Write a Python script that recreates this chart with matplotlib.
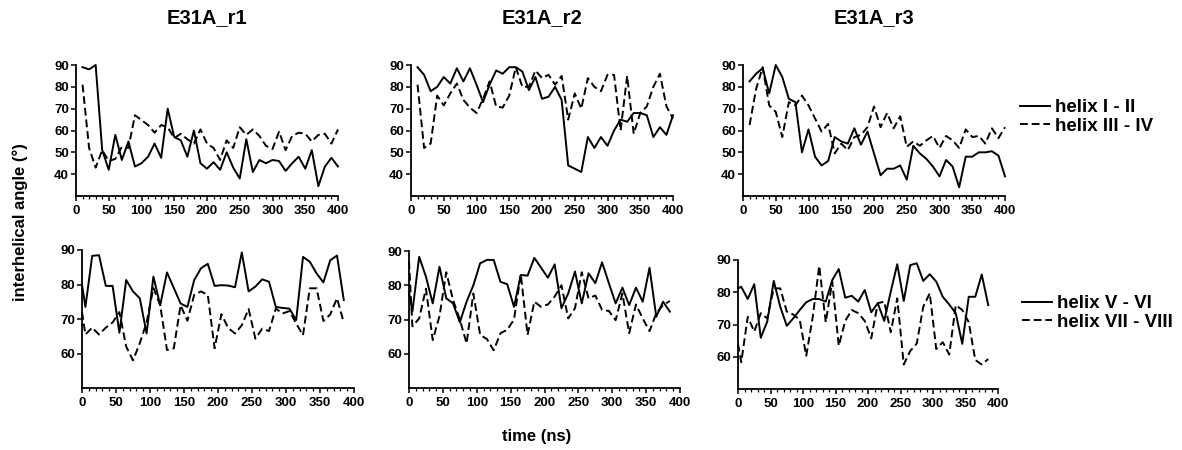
import matplotlib.pyplot as plt
from matplotlib.ticker import MultipleLocator

plt.rcParams['font.family'] = ['Liberation Sans', 'DejaVu Sans']
plt.rcParams['font.weight'] = 'bold'

# time points (ns)
t_top = list(range(10, 401, 10))
t_bot = [0] + list(range(5, 386, 10))

# helix I - II / helix III - IV
r1_a = [89, 88, 90, 51, 42, 58, 46.5, 55, 43.5, 45,
        48, 54, 47.5, 70, 57, 55.5, 48, 60, 45, 42.5,
        45.5, 42, 50, 43, 38, 56, 41, 46.5, 45, 46.5,
        46, 41.5, 45, 48, 42.5, 51, 34.5, 43.5, 47.5, 43.5]
r1_b = [81, 52, 43, 51, 46, 47, 52.5, 52, 67, 64.8,
        62.5, 59, 62.5, 61.5, 56.5, 58.5, 56, 54, 60.5, 54,
        52, 46.5, 55.5, 52, 61.5, 58, 60.5, 57.5, 53, 51.5,
        59.5, 51, 57.5, 59, 58.5, 55, 58, 58.5, 54, 60.5]
r2_a = [89, 85.5, 78, 80, 84.5, 81.5, 88.5, 82.5, 88.5, 81,
        73, 81, 87.5, 86, 89, 89, 87, 78.5, 84.5, 74.5,
        75.5, 80, 74, 44, 42.5, 41, 57, 52, 57, 53,
        60, 65, 64, 68, 68, 67, 57, 61.5, 58, 67]
r2_b = [81, 52, 54, 76, 71.5, 77, 81.5, 74, 70.5, 68,
        74.5, 82.5, 71, 70.5, 76, 89, 80, 80, 87.5, 84,
        85.5, 81, 85, 65, 77, 70, 84, 80, 78, 85.5,
        85.5, 60, 85, 58.5, 68, 71, 80, 86, 71, 65.5]
r3_a = [82.5, 86, 88.5, 77, 90, 84.5, 74.5, 73, 50, 60.5,
        48, 44, 46, 57, 55, 54, 61, 53.5, 59.5, 49.5,
        39.5, 42.5, 42.5, 44, 37.5, 53, 49.5, 47, 43.5, 39,
        46.5, 43.5, 34, 48, 48, 50, 50, 50.5, 48.5, 39]
r3_b = [62.5, 79, 89, 71.5, 68.5, 57, 73, 71.5, 76, 71.5,
        65.5, 59.5, 63, 49.5, 54, 51, 57, 58, 61.5, 71,
        61.5, 68, 61, 66.5, 52.5, 55, 53, 55.5, 57.5, 52,
        57.5, 55.5, 52, 60.5, 57, 57.5, 54, 61, 56.5, 61.5]

# helix V - VI / helix VII - VIII
r1_c = [80, 73.5, 88.3, 88.5, 79.6, 79.6, 66, 81.3, 78, 76,
        65.8, 82.3, 74, 83.5, 79, 74.5, 73.5, 81.3, 84.7, 86,
        79.6, 79.8, 79.7, 79.2, 89.3, 78, 79.4, 81.5, 80.8, 73.5,
        73.2, 73, 69.7, 88, 86.6, 83.2, 80.6, 87, 88.4, 75.5]
r1_d = [72, 65.5, 67.5, 65.5, 67.5, 69, 72, 62, 58, 63,
        69, 79, 74, 61, 61.5, 74, 69.5, 77, 78, 77,
        61.5, 71.4, 67.4, 65.8, 68.2, 72.9, 64.3, 67.2, 66.5, 73,
        71.6, 72.3, 68.7, 65.3, 78.9, 78.9, 69.4, 71.3, 76, 69]
r2_c = [78, 72.3, 88.3, 82.5, 74.7, 85.4, 76.2, 74.7, 69.2, 75.2,
        80, 86.4, 87.4, 87.4, 81, 80.3, 73.7, 83, 82.8, 88,
        85.1, 82.2, 86.1, 73.3, 77.6, 84, 74.7, 83.5, 80.6, 86.7,
        80.6, 74.7, 79.3, 74.2, 79.3, 75.2, 85.1, 70.8, 75.2, 72.3]
r2_d = [87, 68, 70.3, 79, 64, 71, 83.8, 75.7, 70, 63,
        77.6, 65.5, 64.3, 61, 66, 67, 70, 83.2, 65.5, 75.2,
        73.7, 74.4, 76.7, 80, 70.3, 73.3, 83.8, 76.2, 77, 72.8,
        72.5, 69.8, 77.6, 66, 74.4, 70.3, 66.6, 71.8, 74.2, 75.4]
r3_c = [81.2, 81.7, 77.9, 82.5, 65.9, 70.9, 83.5, 75.5, 69.6, 71.9,
        74.5, 76.9, 77.9, 77.9, 77.1, 83.8, 87.2, 78.3, 78.9, 77.1,
        80.7, 73.8, 76.6, 71.1, 80.2, 88.7, 77.3, 88.4, 89, 83.5,
        85.6, 83.3, 78.6, 76.2, 73.5, 64, 78.6, 78.6, 85.5, 76]
r3_d = [64, 58.3, 72.4, 67.8, 73.5, 71.9, 81.2, 81.2, 74, 73.1,
        71.4, 60.3, 72.4, 88.2, 70.7, 83.3, 63.4, 71.1, 74.5, 73.5,
        71.1, 65.7, 76.6, 77.1, 67.6, 78.1, 57.6, 61.8, 64.1, 75.5,
        79.7, 62.4, 64.5, 60.7, 76, 74.5, 70.7, 59, 57.6, 59.3]

titles = ['E31A_r1', 'E31A_r2', 'E31A_r3']
top_labels = ['helix I - II', 'helix III - IV']
bot_labels = ['helix V - VI', 'helix VII - VIII']

W, H = 1182, 450
fig = plt.figure(figsize=(W / 100, H / 100), dpi=100)


def px_axes(x0, x1, ytop, ybot):
    return fig.add_axes([x0 / W, 1 - ybot / H, (x1 - x0) / W, (ybot - ytop) / H])


def style(ax, ylo, yticks):
    ax.set_xlim(0, 400)
    ax.set_ylim(ylo, 90)
    ax.set_yticks(yticks)
    ax.xaxis.set_major_locator(MultipleLocator(50))
    ax.xaxis.set_minor_locator(MultipleLocator(10))
    for s in ['top', 'right']:
        ax.spines[s].set_visible(False)
    for s in ['left', 'bottom']:
        ax.spines[s].set_linewidth(1.3)
    ax.tick_params(which='major', length=3.5, width=1.1, pad=1.5, labelsize=9.5)
    ax.tick_params(which='minor', length=2, width=0.9)
    ax.tick_params(axis='x', pad=3)


top_pos = [(76, 338), (411, 673), (743, 1005)]
top_data = [(r1_a, r1_b), (r2_a, r2_b), (r3_a, r3_b)]
top_axes = []
for (x0, x1), (sa, sb), title in zip(top_pos, top_data, titles):
    ax = px_axes(x0, x1, 65, 196)
    ax.plot(t_top, sa, color='black', lw=1.4, clip_on=False, label=top_labels[0])
    ax.plot(t_top, sb, color='black', lw=1.4, ls=(0, (4, 2)), clip_on=False,
            label=top_labels[1])
    style(ax, 30, [40, 50, 60, 70, 80, 90])
    top_axes.append(ax)
    fig.text((x0 + x1) / 2 / W, 1 - 18 / H, title, ha='center', va='center',
             fontsize=14.5, fontweight='bold')

bot_pos = [(82, 354, 250, 388), (409, 680, 251, 388), (738, 998, 260, 389)]
bot_data = [(r1_c, r1_d), (r2_c, r2_d), (r3_c, r3_d)]
bot_axes = []
for (x0, x1, yt, yb), (sc, sd) in zip(bot_pos, bot_data):
    ax = px_axes(x0, x1, yt, yb)
    ax.plot(t_bot, sc, color='black', lw=1.4, clip_on=False, label=bot_labels[0])
    ax.plot(t_bot, sd, color='black', lw=1.4, ls=(0, (4, 2)), clip_on=False,
            label=bot_labels[1])
    style(ax, 50, [60, 70, 80, 90])
    bot_axes.append(ax)

leg_kw = dict(frameon=False, loc='center left', fontsize=13.5, handlelength=1.6,
              handletextpad=0.25, labelspacing=0.08, borderpad=0, borderaxespad=0)
h, l = top_axes[2].get_legend_handles_labels()
fig.legend(h, l, bbox_to_anchor=(1020 / W, 1 - 117 / H), **leg_kw)
h, l = bot_axes[2].get_legend_handles_labels()
fig.legend(h, l, bbox_to_anchor=(1022 / W, 1 - 313 / H), **leg_kw)

fig.text(20 / W, 1 - 222 / H, 'interhelical angle (°)', rotation=90, ha='center',
         va='center', fontsize=12, fontweight='bold')
fig.text(537 / W, 1 - 437 / H, 'time (ns)', ha='center', va='center',
         fontsize=12, fontweight='bold')

fig.savefig('out.png', dpi=100)
